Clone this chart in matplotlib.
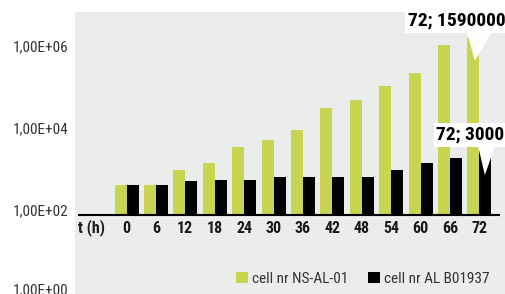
import numpy as np
import matplotlib
matplotlib.use('Agg')
import matplotlib.pyplot as plt
from matplotlib.patches import Polygon
from matplotlib.transforms import ScaledTranslation

# data (log scale)
hours = ['0', '6', '12', '18', '24', '30', '36', '42', '48', '54', '60', '66', '72']
ns_al_01 = [400, 400, 950, 1400, 3500, 5100, 9000, 30000, 48000, 105000, 220000, 1050000, 1590000]
al_b01937 = [400, 400, 500, 550, 550, 640, 640, 640, 640, 950, 1400, 1850, 3000]
ytick_vals = [1, 1e2, 1e4, 1e6]
ytick_labels = ['1,00E+00', '1,00E+02', '1,00E+04', '1,00E+06']
series_names = ['cell nr NS-AL-01', 'cell nr AL B01937']

green = '#C9D550'
bg = '#EBECEC'
plt.rcParams['font.family'] = ['Roboto Condensed', 'Archivo Narrow', 'DejaVu Sans']

fig = plt.figure(figsize=(5.05, 2.94), dpi=100)
ax = fig.add_axes([75 / 505, 0, 430 / 505, 282 / 294])
ax.set_facecolor(bg)
ax.set_yscale('log')
ax.set_ylim(10 ** -0.0488, 10 ** 6.829)
ax.set_xlim(-1.752, 12.874)

x = np.arange(len(hours))
w = 0.408
base = 10 ** (2 - 5 / 41)
ax.bar(x - w / 2, np.array(ns_al_01) - base, w, bottom=base, color=green, label=series_names[0])
ax.bar(x + w / 2, np.array(al_b01937) - base, w, bottom=base, color='black', label=series_names[1])
ax.plot([-1.66, 12.69], [base, base], color='black', lw=1.5, solid_capstyle='butt')

for s in ax.spines.values():
    s.set_visible(False)
ax.set_xticks([])
ax.set_yticks(ytick_vals, ytick_labels)
ax.tick_params(axis='y', length=0, pad=5, labelsize=11, labelcolor='#333333')
ax.minorticks_off()
# bottom label sits a little higher in the original
lbl0 = ax.get_yticklabels()[0]
lbl0.set_transform(lbl0.get_transform() + ScaledTranslation(0, 3 / 100, fig.dpi_scale_trans))

# category labels under the axis
tr = ax.get_xaxis_transform()
for xi, lab in zip(x, hours):
    ax.text(xi, 0.234, lab, transform=tr, ha='center', va='center',
            fontsize=11.5, fontweight='bold', color='#1a1a1a')
ax.text(-1.19, 0.234, 't (h)', transform=tr, ha='center', va='center',
        fontsize=11.5, fontweight='bold', color='#1a1a1a')

# callouts for the last point
ax.text(11.22, 0.968, '72; %d' % ns_al_01[-1], transform=tr, ha='center', va='center',
        fontsize=14, fontweight='bold', color='black', zorder=5,
        bbox=dict(facecolor='white', edgecolor='none', pad=2))
ax.add_patch(Polygon([[11.58, 10 ** 6.35], [12.43, 10 ** 6.35], [11.85, 10 ** 5.634]],
                     closed=True, facecolor='white', edgecolor='none', zorder=4))
ax.text(11.70, 0.564, '72; %d' % al_b01937[-1], transform=tr, ha='center', va='center',
        fontsize=14, fontweight='bold', color='black', zorder=5,
        bbox=dict(facecolor='white', edgecolor='none', pad=2))
ax.add_patch(Polygon([[11.96, 10 ** 3.55], [12.53, 10 ** 3.55], [12.19, 10 ** 2.854]],
                     closed=True, facecolor='white', edgecolor='none', zorder=4))

ax.legend(loc='center left', bbox_to_anchor=(0.356, 0.053), ncol=2, frameon=False,
          borderpad=0, handlelength=0.8, handleheight=0.75, handletextpad=0.25,
          columnspacing=1.3, fontsize=11, labelcolor='#333333')

fig.savefig('out.png', dpi=100)
